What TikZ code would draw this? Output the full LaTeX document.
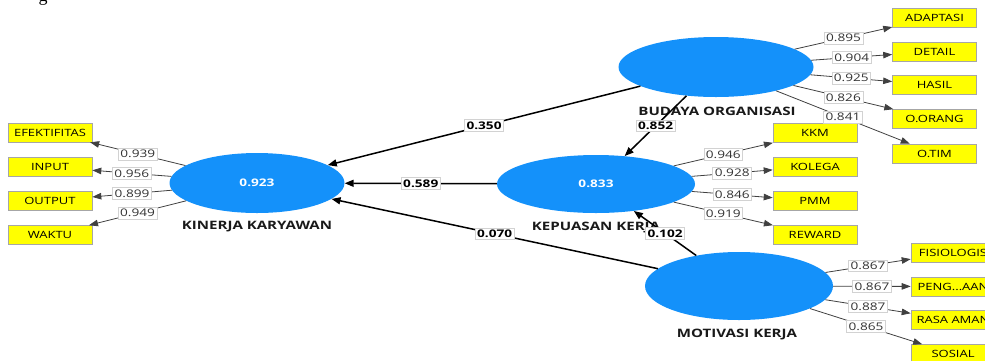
\documentclass[tikz,border=0pt]{standalone}
\usepackage{fontspec}
\setmainfont[FakeStretch=1.3]{Open Sans}
\newfontfamily\capserif{Liberation Serif}
\usetikzlibrary{shapes.geometric,arrows.meta}
\definecolor{lvblue}{RGB}{20,145,250}
\definecolor{indyellow}{RGB}{255,255,0}
\begin{document}
\begin{tikzpicture}[x=1pt,y=-1pt,
  lv/.style={ellipse, fill=lvblue, draw=none, inner sep=0, text=white, font=\bfseries\fontsize{10.5}{12}\selectfont},
  ind/.style={rectangle, fill=indyellow, draw=gray!70, line width=0.6pt, minimum width=84pt, minimum height=19pt, inner sep=0, font=\fontsize{10}{11}\selectfont},
  sarrow/.style={line width=1.5pt, draw=black, -{Triangle[length=9pt,width=7pt]}},
  oarrow/.style={line width=0.8pt, draw=black!75, -{Triangle[length=9pt,width=6.5pt]}},
  olab/.style={fill=white, draw=gray!35, line width=0.6pt, inner xsep=2pt, inner ysep=2pt, font=\fontsize{10.5}{11}\selectfont, text=black!80},
  slab/.style={fill=white, draw=gray!35, line width=0.6pt, inner xsep=2pt, inner ysep=2pt, font=\bfseries\fontsize{10.5}{11}\selectfont, text=black},
  lvname/.style={font=\bfseries\fontsize{11.6}{12}\selectfont, text=black!90}
]
\useasboundingbox (0,0) rectangle (985,360);
\clip (0,0) rectangle (985,360);

% caption fragment
\node[font=\capserif\fontsize{18}{18}\selectfont, anchor=base, inner sep=0] (capg) at (43,1) {g};

% latent variables
\node[lv, minimum width=175pt, minimum height=60pt] (kin) at (257,183) {0.923};
\node[lv, minimum width=198pt, minimum height=58pt] (kep) at (596,184) {0.833};
\node[lv, minimum width=195pt, minimum height=60pt] (bud) at (716,67) {};
\node[lv, minimum width=188pt, minimum height=68pt] (mot) at (739,286) {};

% names
\node[lvname] (kinname) at (257,227) {KINERJA KARYAWAN};
\node[lvname] (budname) at (717,111) {BUDAYA ORGANISASI};
\node[lvname] (kepname) at (596,228) {KEPUASAN KERJA};
\node[lvname] (motname) at (737,335) {MOTIVASI KERJA};

% indicators KINERJA
\node[ind] (efe) at (50,132.5) {EFEKTIFITAS};
\node[ind] (inp) at (50,167) {INPUT};
\node[ind] (out) at (50,200.5) {OUTPUT};
\node[ind] (wak) at (50,235) {WAKTU};
% indicators BUDAYA
\node[ind] (ada) at (934.5,17.5) {ADAPTASI};
\node[ind] (det) at (934.5,51.5) {DETAIL};
\node[ind] (has) at (934.5,85) {HASIL};
\node[ind] (oor) at (934.5,119) {O.ORANG};
\node[ind] (oti) at (934.5,153.5) {O.TIM};
% indicators KEPUASAN
\node[ind] (kkm) at (815,133) {KKM};
\node[ind] (kol) at (815,166.5) {KOLEGA};
\node[ind] (pmm) at (815,201) {PMM};
\node[ind] (rew) at (815,235) {REWARD};
% indicators MOTIVASI
\node[ind] (fis) at (953,252.5) {FISIOLOGIS};
\node[ind] (pen) at (953,286.5) {PENG...AAN};
\node[ind] (ras) at (953,320) {RASA AMAN};
\node[ind] (sos) at (953,354) {SOSIAL};

% outer loadings
\draw[oarrow] (kin) -- node[olab] {0.939} (efe);
\draw[oarrow] (kin) -- node[olab] {0.956} (inp);
\draw[oarrow] (kin) -- node[olab] {0.899} (out);
\draw[oarrow] (kin) -- node[olab] {0.949} (wak);

\draw[oarrow] (bud) -- node[olab] {0.895} (ada);
\draw[oarrow] (bud) -- node[olab] {0.904} (det);
\draw[oarrow] (bud) -- node[olab] {0.925} (has);
\draw[oarrow] (bud) -- node[olab] {0.826} (oor);
\draw[oarrow] (bud) -- node[olab] {0.841} (oti);

\draw[oarrow] (kep) -- node[olab] {0.946} (kkm);
\draw[oarrow] (kep) -- node[olab] {0.928} (kol);
\draw[oarrow] (kep) -- node[olab] {0.846} (pmm);
\draw[oarrow] (kep) -- node[olab] {0.919} (rew);

\draw[oarrow] (mot) -- node[olab] {0.867} (fis);
\draw[oarrow] (mot) -- node[olab] {0.867} (pen);
\draw[oarrow] (mot) -- node[olab] {0.887} (ras);
\draw[oarrow] (mot) -- node[olab] {0.865} (sos);

% structural paths
\draw[sarrow] (bud) -- node[slab] {0.350} (kin);
\draw[sarrow] (kep) -- node[slab] {0.589} (kin);
\draw[sarrow] (mot) -- node[slab] {0.070} (kin);
\draw[sarrow] (bud) -- node[slab] {0.852} (kep);
\draw[sarrow] (mot) -- node[slab] {0.102} (kep);
\end{tikzpicture}
\end{document}
